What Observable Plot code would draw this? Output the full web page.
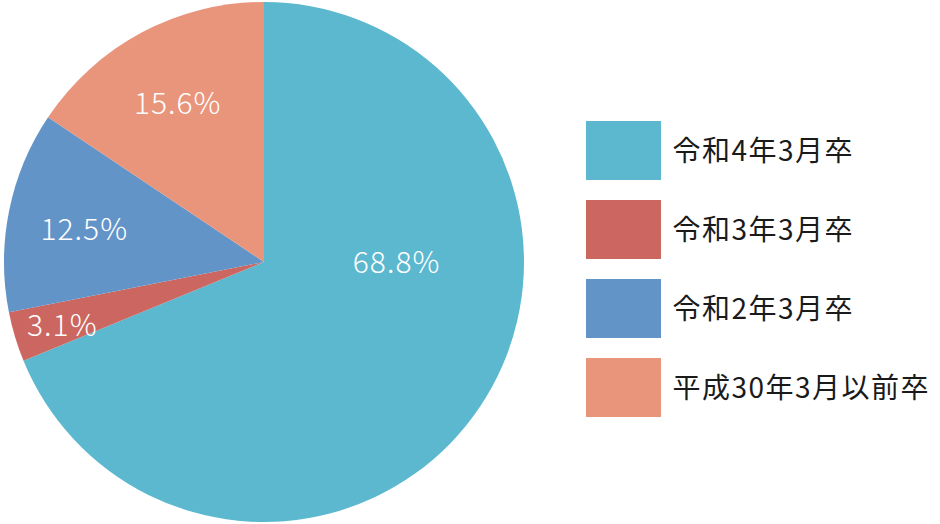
<!DOCTYPE html>
<html><head><meta charset="utf-8">
<script src="https://cdn.jsdelivr.net/npm/d3@7"></script>
<script src="https://cdn.jsdelivr.net/npm/@observablehq/plot@0.6"></script>
<style>
body{margin:0;background:#fff}
svg g[aria-label="text"] text{letter-spacing:1.5px}
</style>
</head><body><div id="chart"></div>
<script>
const categories = ["令和4年3月卒","令和3年3月卒","令和2年3月卒","平成30年3月以前卒"];
const shares = [68.8, 3.1, 12.5, 15.6];
const colors = ["#5bb8cf","#cc6660","#6294c8","#e8957c"];
const labels = ["68.8%","3.1%","12.5%","15.6%"];

const data = categories.map((c,i)=>({category:c, share:shares[i], label:labels[i]}));

const W = 940, H = 524, cx = 264, cy = 262, R = 260;
const FONT = "'Noto Sans CJK JP','Noto Sans',sans-serif";

function pieMark(index, scales) {
  const color = scales.color;
  const g = d3.create("svg:g").attr("transform", `translate(${cx},${cy})`);
  const arcs = d3.pie().value(d => d.share).sort(null)(data);
  const arc = d3.arc().innerRadius(0).outerRadius(R);
  g.append("g").selectAll("path").data(arcs).join("path")
    .attr("d", arc).attr("fill", d => color(d.data.category));
  g.append("g").selectAll("text").data(arcs).join("text")
    .attr("transform", d => {
      let a = (d.startAngle + d.endAngle) / 2;
      let f = d.data.share < 5 ? 0.81 : 0.705;
      if (d.endAngle - d.startAngle > Math.PI) { a = Math.PI / 2 - 0.02; f = 0.51; }
      return `translate(${f * R * Math.sin(a)},${-f * R * Math.cos(a) + 3})`;
    })
    .attr("text-anchor", "middle")
    .attr("dy", "0.36em")
    .attr("fill", "white")
    .attr("font-size", 30)
    .attr("font-weight", 300)
    .attr("letter-spacing", "1px")
    .attr("font-family", FONT)
    .text(d => d.data.label);
  return g.node();
}

const plot = Plot.plot({
  width: W, height: H, margin: 0,
  x: {type: "band", domain: ["swatch"], range: [586, 661], padding: 0, axis: null},
  y: {type: "band", domain: categories, range: [120, 418], paddingInner: 0.25, paddingOuter: 0, axis: null},
  color: {domain: categories, range: colors},
  style: {fontFamily: FONT, background: "white"},
  marks: [
    pieMark,
    Plot.cell(data, {x: () => "swatch", y: "category", fill: "category", inset: 0}),
    Plot.text(data, {x: () => "swatch", y: "category", text: "category", dx: 48.5, dy: 1, textAnchor: "start", fontSize: 28, fill: "#1a1a1a"})
  ]
});
document.getElementById("chart").appendChild(plot);
</script>
</body></html>
